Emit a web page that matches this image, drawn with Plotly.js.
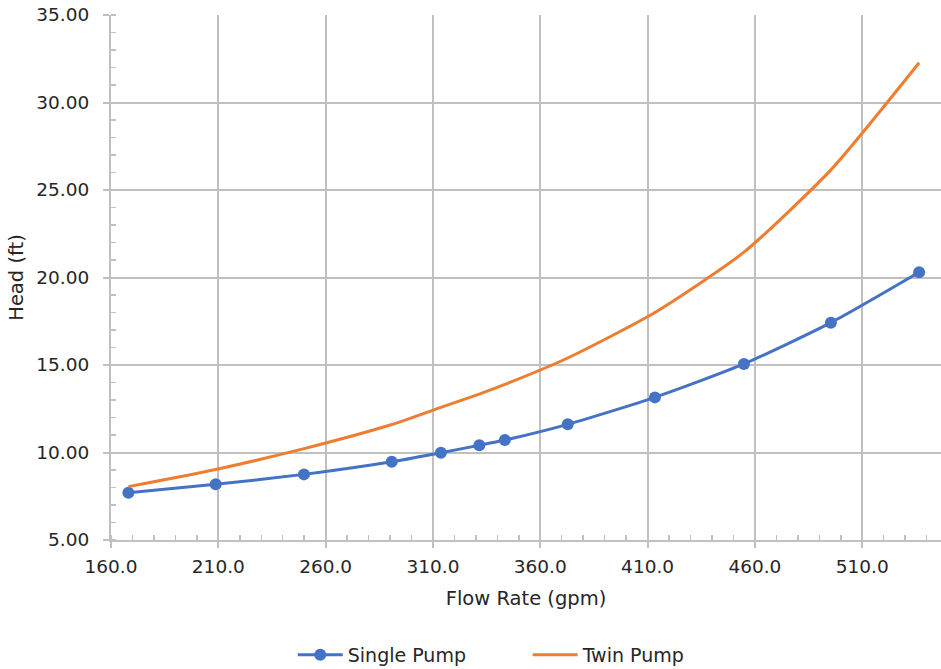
<!DOCTYPE html>
<html>
<head>
<meta charset="utf-8">
<script src="https://cdn.plot.ly/plotly-3.0.1.min.js"></script>
<style>
html, body { margin: 0; padding: 0; overflow: hidden; background: #fff; }
#chart { width: 941px; height: 669px; }
</style>
</head>
<body>
<div id="chart"></div>
<script>
// Flow rate (gpm) for each operating point
const flowRate = [168.1, 208.8, 249.9, 290.8, 313.7, 331.6, 343.5, 372.8, 413.4, 454.9, 495.4, 536.5];
// Head (ft), single pump
const singlePumpHead = [7.70, 8.18, 8.75, 9.47, 9.99, 10.41, 10.71, 11.61, 13.15, 15.06, 17.42, 20.30];
// Head (ft), twin pump
const twinPumpHead = [8.05, 9.03, 10.22, 11.60, 12.58, 13.34, 13.89, 15.40, 18.00, 21.45, 26.15, 32.27];
const seriesNames = ["Single Pump", "Twin Pump"];

const fontFam = "DejaVu Sans, Verdana, sans-serif";
const textColor = "#262626";
const gridColor = "#c0c0c0";

const traces = [
  {
    x: flowRate, y: singlePumpHead, name: seriesNames[0],
    type: "scatter", mode: "lines+markers",
    line: { color: "#4472C4", width: 3, shape: "spline", smoothing: 0.6 },
    marker: { color: "#4472C4", size: 12 },
    legend: "legend"
  },
  {
    x: flowRate, y: twinPumpHead, name: seriesNames[1],
    type: "scatter", mode: "lines",
    line: { color: "#ED7D31", width: 3, shape: "spline", smoothing: 0.6 },
    legend: "legend2"
  }
];

const legFont = { family: fontFam, size: 19, color: textColor };

const layout = {
  width: 941, height: 669,
  margin: { l: 111, r: 0, t: 15, b: 129, autoexpand: false },
  paper_bgcolor: "#ffffff", plot_bgcolor: "#ffffff",
  font: { family: fontFam, size: 18, color: textColor },
  showlegend: true,
  legend: {
    orientation: "h", x: 0.219, xanchor: "left", yref: "container", y: 0.021, yanchor: "middle",
    font: legFont, itemwidth: 45, bgcolor: "rgba(0,0,0,0)"
  },
  legend2: {
    orientation: "h", x: 0.502, xanchor: "left", yref: "container", y: 0.021, yanchor: "middle",
    font: legFont, itemwidth: 45, bgcolor: "rgba(0,0,0,0)"
  },
  xaxis: {
    range: [160, 546.7], tick0: 160, dtick: 50, tickformat: ".1f",
    showgrid: true, gridcolor: gridColor, gridwidth: 2,
    showline: true, linecolor: gridColor, linewidth: 2,
    ticks: "outside", ticklen: 6, tickcolor: gridColor, tickwidth: 2,
    minor: { dtick: 10, tick0: 160, ticks: "inside", ticklen: 5, tickcolor: gridColor, tickwidth: 1.5, showgrid: false },
    zeroline: false,
    ticklabelstandoff: 3,
    tickfont: { family: fontFam, size: 18.5, color: textColor },
    title: { text: "Flow Rate (gpm)", font: { family: fontFam, size: 19.5, color: textColor }, standoff: 15 }
  },
  yaxis: {
    range: [5, 35], tick0: 5, dtick: 5, tickformat: ".2f",
    showgrid: true, gridcolor: gridColor, gridwidth: 2,
    showline: true, linecolor: gridColor, linewidth: 2,
    ticks: "outside", ticklen: 6, tickcolor: gridColor, tickwidth: 2,
    minor: { dtick: 1, tick0: 5, ticks: "inside", ticklen: 5, tickcolor: gridColor, tickwidth: 1.5, showgrid: false },
    zeroline: false,
    ticklabelstandoff: 10,
    tickfont: { family: fontFam, size: 18.5, color: textColor },
    title: { text: "Head (ft)", font: { family: fontFam, size: 19.5, color: textColor }, standoff: 8 }
  }
};

Plotly.newPlot("chart", traces, layout, { staticPlot: true, displayModeBar: false });
</script>
</body>
</html>
